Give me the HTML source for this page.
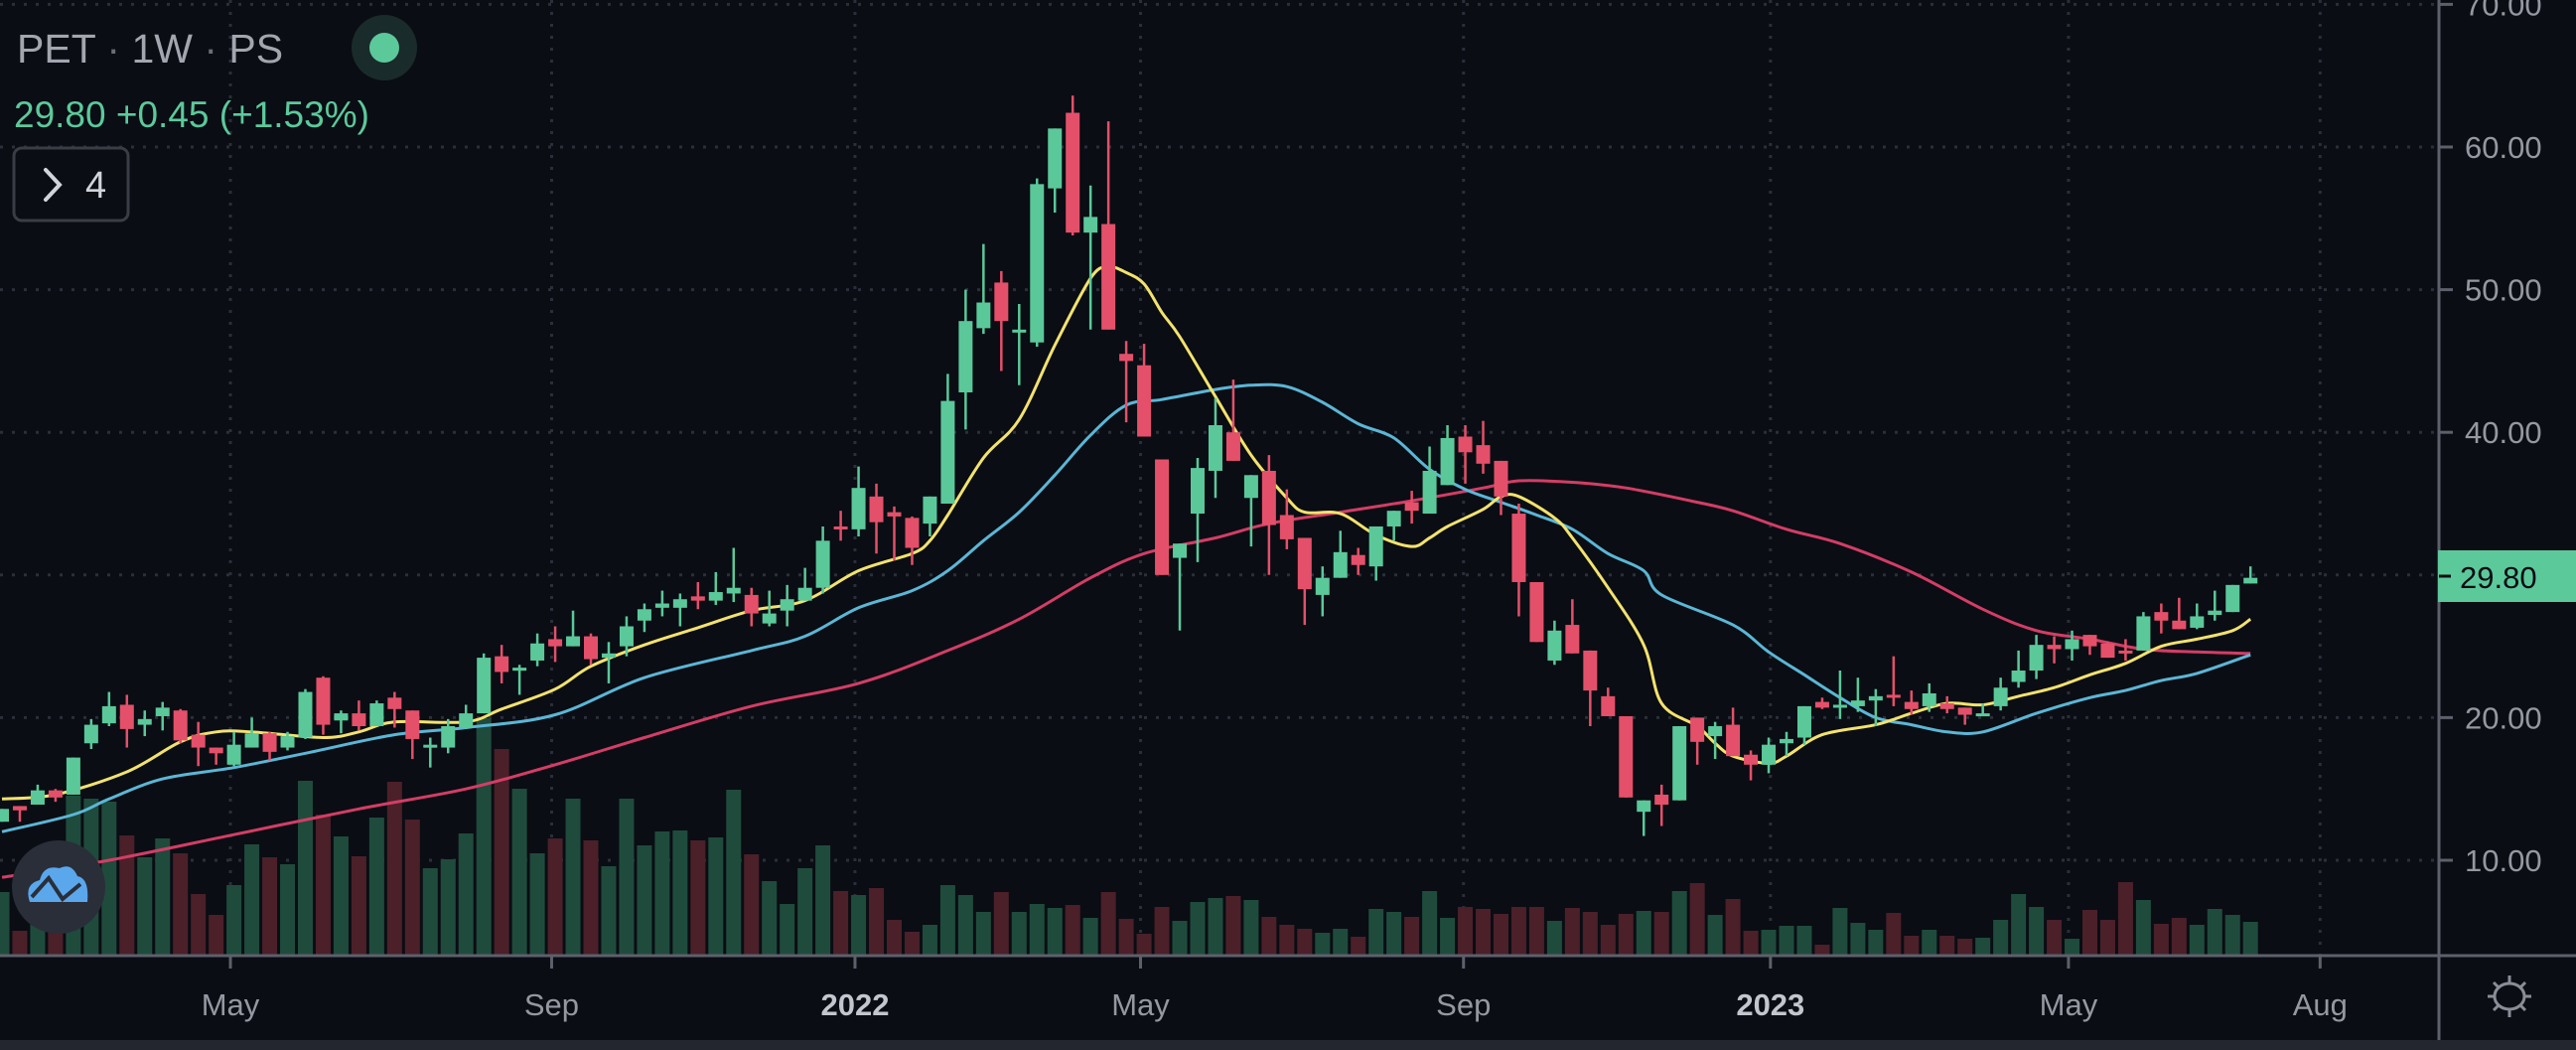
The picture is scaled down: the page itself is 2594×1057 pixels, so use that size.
<!DOCTYPE html>
<html><head><meta charset="utf-8"><style>
html,body{margin:0;padding:0;background:#0a0d13;overflow:hidden}
svg{display:block}
text{font-family:"Liberation Sans","DejaVu Sans",sans-serif}
</style></head><body>
<svg id="chart" width="2594" height="1057" viewBox="0 0 2594 1057" xmlns="http://www.w3.org/2000/svg">
<rect x="0" y="0" width="2594" height="1057" fill="#0a0d13"/>
<g id="grid"></g>
<defs><clipPath id="plotClip"><rect x="0" y="0" width="2455" height="961"/></clipPath></defs>
<g id="vol" clip-path="url(#plotClip)"></g>
<g id="mas" clip-path="url(#plotClip)"></g>
<g id="candles" clip-path="url(#plotClip)"></g>
<line x1="2456" y1="0" x2="2456" y2="1047" stroke="#5d606b" stroke-width="3"/>
<line x1="0" y1="962" x2="2594" y2="962" stroke="#5d606b" stroke-width="3"/>
<g id="yaxis"></g>
<g id="xaxis"></g>
<g>
<rect x="2455" y="554" width="139" height="52" fill="#5cc99b"/>
<line x1="2456" y1="580" x2="2468" y2="580" stroke="#0a0d13" stroke-width="3"/>
<text x="2477" y="592" font-size="31" fill="#0a0d13" font-family="DejaVu Sans Mono, Liberation Mono, monospace">29.80</text>
</g>
<g transform="translate(2527,1003)" stroke="#8a8d96" stroke-width="3" fill="none">
<ellipse cx="0" cy="0" rx="15" ry="13"/>
<line x1="0" y1="-21" x2="0" y2="-13"/><line x1="0" y1="13" x2="0" y2="21"/>
<line x1="-22" y1="0" x2="-15" y2="0"/><line x1="15" y1="0" x2="22" y2="0"/>
<line x1="-16" y1="-14" x2="-11" y2="-9"/><line x1="11" y1="9" x2="16" y2="14"/>
<line x1="16" y1="-14" x2="11" y2="-9"/><line x1="-11" y1="9" x2="-16" y2="14"/>
</g>
<rect x="0" y="1047" width="2594" height="10" fill="#23262e"/>
<g>
<text x="17" y="63" font-size="41" fill="#a3a6af">PET <tspan fill="#6b6e77">·</tspan> 1W <tspan fill="#6b6e77">·</tspan> PS</text>
</g>
<g>
<circle cx="387" cy="48" r="33" fill="#1a2b2b"/><circle cx="387" cy="48" r="15" fill="#5cc99b"/>
</g>
<text x="14" y="128" font-size="37" fill="#5cc99b">29.80  +0.45 (+1.53%)</text>
<g>
<rect x="14" y="149" width="115" height="73" rx="8" fill="#0a0d13" stroke="#3a3d45" stroke-width="3"/>
<polyline points="46,171 60,186 46,201" fill="none" stroke="#d1d4dc" stroke-width="4" stroke-linecap="round"/>
<text x="86" y="199" font-size="38" fill="#d1d4dc">4</text>
</g>
<g>
<circle cx="59" cy="893" r="47" fill="#2a2e39"/>
<path d="M30,908 q-6,-18 10,-22 q4,-16 20,-12 q12,-6 18,8 q12,2 10,26 z" fill="#5aa7ec"/>
<polyline points="32,903 49,884 63,905 81,890" fill="none" stroke="#2a2e39" stroke-width="4"/>
</g>
</svg>
<script>
const opens  = [12.7,13.8,13.9,14.9,14.6,18.2,19.6,20.9,19.5,20.1,20.5,18.8,17.9,16.7,17.9,18.9,17.9,18.6,22.8,19.8,20.3,19.4,21.4,20.5,17.9,17.9,19.3,20.3,24.3,23.3,24.0,25.5,
25.0,25.7,24.2,25.0,26.8,27.7,27.7,28.5,28.2,28.7,28.6,26.6,27.5,28.2,29.1,33.4,33.2,35.5,34.4,34.0,33.6,35.0,42.8,47.3,50.5,47.0,46.3,57.1,62.4,54.0,54.6,45.5,
44.7,38.1,31.2,34.3,37.3,40.0,35.4,37.3,34.2,32.6,28.6,29.8,31.4,30.6,33.4,35.1,34.3,36.3,39.7,39.1,38.0,34.3,29.5,24.0,26.5,24.7,21.5,20.1,13.4,14.6,14.2,
20.0,18.7,19.5,17.4,16.7,18.2,18.6,21.1,20.7,20.8,21.2,21.6,21.1,20.8,21.0,20.7,20.1,20.8,22.5,23.3,25.1,24.8,25.8,25.2,24.7,24.7,27.4,26.8,26.3,27.2,27.4,29.4];
const highs  = [13.6,13.8,15.3,15.0,17.2,19.9,21.8,21.6,20.5,21.1,20.6,19.7,17.9,19.0,20.0,19.0,19.0,22.0,22.9,20.5,21.2,21.2,21.8,20.5,18.6,19.9,20.9,24.5,25.1,23.7,25.9,26.4,
27.5,25.9,25.3,27.1,28.0,28.9,28.7,29.5,30.2,31.9,29.1,28.9,29.3,30.5,33.4,34.5,37.6,36.4,34.8,34.1,35.5,44.1,50.0,53.2,51.3,49.0,57.8,61.3,63.6,57.3,61.8,46.4,
46.2,38.1,32.2,38.2,42.4,43.7,37.0,38.4,36.0,32.6,30.6,33.1,31.9,33.4,34.5,35.9,39.0,40.5,40.5,40.8,38.0,35.0,29.5,26.8,28.3,24.7,22.1,20.1,14.2,15.3,19.4,
20.0,19.7,20.7,17.7,18.6,19.0,20.8,21.4,23.3,22.8,22.0,24.3,21.9,22.4,21.5,20.7,21.0,22.8,24.7,25.8,25.7,26.1,25.8,25.3,25.5,27.4,28.0,28.4,28.0,28.9,29.3,30.6];
const lows   = [12.7,12.7,13.9,14.1,14.6,17.8,19.4,17.9,18.7,19.1,18.2,16.6,16.7,16.6,17.9,17.0,17.7,18.5,18.8,18.9,19.1,19.4,19.3,17.1,16.5,17.5,19.2,20.3,22.4,21.6,23.6,23.9,
25.0,23.7,22.4,24.3,26.0,27.1,26.4,27.6,27.9,28.1,26.4,26.4,26.4,28.2,28.7,32.4,32.7,31.5,31.0,30.7,32.7,35.0,40.2,46.9,44.3,43.3,46.0,55.4,53.8,47.2,47.2,40.7,
39.7,30.0,26.1,30.9,35.4,38.0,32.0,30.0,31.8,26.5,27.1,29.8,30.0,29.6,32.4,33.6,34.3,36.3,36.4,37.1,34.2,27.1,25.3,23.7,24.5,19.4,20.1,14.4,11.7,12.4,14.2,
16.7,17.1,17.3,15.6,16.1,17.3,18.1,20.6,19.9,20.4,19.4,20.8,20.2,20.4,20.3,19.5,20.1,20.5,22.1,22.7,23.8,24.0,24.4,24.2,24.0,24.7,25.9,26.2,26.2,26.8,27.4,29.4];
const closes = [13.6,13.5,14.9,14.4,17.2,19.5,20.8,19.2,19.9,20.7,18.4,17.9,17.5,18.1,18.9,17.6,18.7,21.8,19.5,20.3,19.4,21.0,20.6,18.5,18.1,19.4,20.3,24.2,23.2,23.5,25.2,25.0,
25.7,24.1,24.5,26.4,27.6,28.0,28.3,28.2,28.8,29.1,27.3,27.3,28.3,29.1,32.4,33.2,36.1,33.7,34.1,31.9,35.5,42.2,47.8,49.1,47.8,47.2,57.4,61.3,54.0,55.1,47.2,45.0,
39.7,30.0,32.2,37.5,40.5,38.0,37.0,33.5,32.5,29.0,29.8,31.6,30.7,33.4,34.5,34.5,37.3,39.6,38.6,37.8,35.5,29.5,25.3,26.1,24.5,21.9,20.1,14.4,14.2,13.9,19.4,
18.3,19.4,17.3,16.7,18.1,18.5,20.8,20.7,20.9,21.2,21.5,21.4,20.6,21.7,20.6,20.2,20.3,22.1,23.3,25.1,24.8,25.5,25.0,24.2,24.5,27.1,26.8,26.2,27.1,27.5,29.3,29.8];
const volumes = [64,25,80,45,161,158,155,121,99,118,103,62,41,71,112,99,92,176,142,120,100,139,175,137,88,97,123,239,208,168,103,118,
158,116,90,158,111,125,126,116,119,167,102,75,52,88,111,65,61,68,36,24,31,71,61,44,64,44,52,48,51,38,64,37,
22,49,35,54,58,60,56,39,31,27,23,27,19,47,44,39,65,38,49,47,42,49,49,35,48,44,31,42,45,44,65,
73,41,57,25,26,30,30,11,48,33,26,43,20,26,20,17,18,36,62,49,36,17,46,36,74,56,32,38,31,47,41,34];
const fastIdx = [0,3,7,10,12,14,18,20,22,26,28,31,33,36,39,42,45,48,51,52,53,55,57,59,61,62,63,64,65,66,68,70,72,73,75,77,79,80,81,83,84,85,87,88,90,92,93,95,96,97,99,100,102,105,107,109,111,113,115,117,119,121,123,125,126];
const fastVal = [14.3,14.6,16.2,18.3,19.0,19.0,18.6,19.0,19.7,19.7,20.6,22.0,23.6,25.1,26.3,27.5,28.2,30.3,31.5,32.4,34.2,38.2,40.9,46.1,50.8,51.6,51.2,50.4,48.4,46.7,42.5,38.4,35.4,34.4,34.3,32.8,32.0,32.6,33.4,34.6,35.5,35.5,34.0,32.6,29.1,25.1,21.0,19.4,18.2,17.3,16.8,17.3,18.8,19.5,20.3,21.0,20.9,21.5,22.1,23.0,23.8,25.0,25.5,26.1,26.9];
const midIdx = [0,4,6,9,13,17,22,26,31,36,42,45,48,51,53,55,57,59,61,63,65,68,70,72,74,76,78,80,82,84,86,88,90,92,93,97,99,101,103,105,107,109,111,114,117,119,121,123,126];
const midVal = [12.0,13.2,14.3,15.7,16.5,17.5,18.8,19.3,20.2,22.8,24.7,25.7,27.7,28.9,30.3,32.4,34.4,37.0,39.8,41.9,42.3,43.0,43.3,43.2,42.1,40.6,39.6,37.4,36.0,35.1,34.2,33.2,31.5,30.3,28.6,26.5,24.6,23.0,21.4,20.0,19.5,19.0,19.0,20.3,21.4,21.9,22.6,23.1,24.4];
const slowIdx = [0,6,13,20,26,31,36,42,48,53,57,61,64,68,71,75,79,83,85,88,91,95,97,100,103,107,111,114,117,120,123,126];
const slowVal = [8.8,10.0,11.8,13.6,15.0,16.7,18.6,20.8,22.4,24.7,26.9,29.8,31.5,32.6,33.6,34.4,35.2,36.1,36.6,36.5,36.1,35.1,34.5,33.2,32.2,30.2,27.6,26.1,25.5,24.8,24.6,24.5];
const priceTicks = [70,60,50,40,20,10];
const gridPrices = [70,60,50,40,30,20,10];
const timeLabels = ["May","Sep","2022","May","Sep","2023","May","Aug"];
const timeLabelIdx = [12.8,30.8,47.8,63.8,81.9,99.1,115.8,129.9];

const NS = "http://www.w3.org/2000/svg";
function xOf(i){ return 2 + i*17.97; }
function yOf(p){ return 866 - (p-10)*14.36; }
function vOf(v){ return 962 - v*1.0; }
function mk(tag, attrs, parent){ const e=document.createElementNS(NS,tag); for(const k in attrs) e.setAttribute(k, attrs[k]); parent.appendChild(e); return e; }

const grid=document.getElementById('grid');
gridPrices.forEach(p=>{
  const l=mk('line',{x1:0,x2:2455,y1:yOf(p),y2:yOf(p),stroke:'#2b2f3a','stroke-width':3,'stroke-dasharray':'3 9'},grid);
  
  
});
timeLabelIdx.forEach(t=>{
  const l=mk('line',{x1:xOf(t),x2:xOf(t),y1:0,y2:961,stroke:'#2b2f3a','stroke-width':3,'stroke-dasharray':'3 9'},grid);
  
  
});

const vol=document.getElementById('vol');
volumes.forEach((v,i)=>{
  const up=closes[i]>=opens[i];
  const r=mk('rect',{x:xOf(i)-7.5,y:vOf(v),width:15,height:962-vOf(v),fill:up?'#1f4b3c':'#4b2029'},vol);
  
  
});

const mas=document.getElementById('mas');
function drawLine(idx,vals,color,name){
  const pts=idx.map((i,k)=>[xOf(i),yOf(vals[k])]);
  let d='M'+pts[0][0].toFixed(1)+','+pts[0][1].toFixed(1);
  for(let k=0;k<pts.length-1;k++){
    const p0=pts[Math.max(0,k-1)], p1=pts[k], p2=pts[k+1], p3=pts[Math.min(pts.length-1,k+2)];
    const c1=[p1[0]+(p2[0]-p0[0])/6, p1[1]+(p2[1]-p0[1])/6];
    const c2=[p2[0]-(p3[0]-p1[0])/6, p2[1]-(p3[1]-p1[1])/6];
    d+='C'+c1[0].toFixed(1)+','+c1[1].toFixed(1)+' '+c2[0].toFixed(1)+','+c2[1].toFixed(1)+' '+p2[0].toFixed(1)+','+p2[1].toFixed(1);
  }
  const p=mk('path',{d:d,fill:'none',stroke:color,'stroke-width':3,'stroke-linejoin':'round'},mas);
  
  
}
drawLine(slowIdx,slowVal,'#d43d66','slow-moving-average');
drawLine(midIdx,midVal,'#5bb6d6','mid-moving-average');
drawLine(fastIdx,fastVal,'#f3e26e','fast-moving-average');

const cg=document.getElementById('candles');
opens.forEach((o,i)=>{
  const c=closes[i], up=c>=o, col=up?'#5bc89a':'#e4506a';
  const g=mk('g',{},cg);
  
  
  mk('line',{x1:xOf(i),x2:xOf(i),y1:yOf(highs[i]),y2:yOf(lows[i]),stroke:col,'stroke-width':2.5},g);
  const top=yOf(Math.max(o,c)), bot=yOf(Math.min(o,c));
  mk('rect',{x:xOf(i)-7,y:top,width:14,height:Math.max(3,bot-top),fill:col},g);
});

const ya=document.getElementById('yaxis');
priceTicks.forEach(p=>{
  mk('line',{x1:2456,x2:2470,y1:yOf(p),y2:yOf(p),stroke:'#5d606b','stroke-width':3},ya);
  const t=mk('text',{x:2482,y:yOf(p)+11,'font-size':31,fill:'#9598a1','font-family':'DejaVu Sans Mono, Liberation Mono, monospace'},ya);
  t.textContent=p.toFixed(2);
  
  
});
const xa=document.getElementById('xaxis');
timeLabels.forEach((s,k)=>{
  const x=xOf(timeLabelIdx[k]);
  mk('line',{x1:x,x2:x,y1:962,y2:975,stroke:'#5d606b','stroke-width':3},xa);
  const yr=/^\d{4}$/.test(s);
  const t=mk('text',{x:x,y:1022,'font-size':31,'text-anchor':'middle',fill:yr?'#c3c6ce':'#9598a1','font-weight':yr?'bold':'normal'},xa);
  t.textContent=s;
  
  
});
</script>
</body></html>
